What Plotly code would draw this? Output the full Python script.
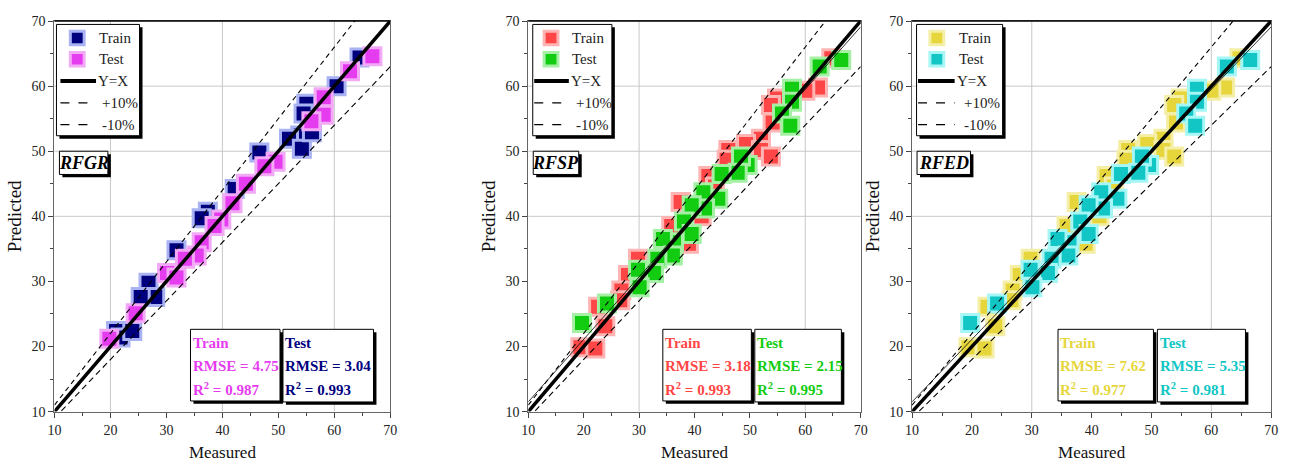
import plotly.graph_objects as go

# ---------------- data ----------------
# Panel 1: RFGR
rfgr_train_measured = [64.5, 60.4, 55.0, 54.5, 53.9, 51.9, 54.2, 56.0, 46.6, 42.2, 37.4, 36.3, 31.8, 26.8, 28.0, 25.4, 21.0, 21.8, 23.9]
rfgr_train_predicted = [64.4, 60.0, 57.3, 55.8, 52.4, 51.9, 50.4, 52.9, 49.8, 44.2, 40.7, 39.7, 34.8, 29.8, 27.6, 27.6, 22.4, 21.4, 22.4]
rfgr_test_measured = [66.8, 62.8, 58.1, 58.1, 55.9, 49.5, 47.5, 44.2, 41.8, 39.8, 38.6, 36.3, 35.4, 33.3, 30.1, 31.8, 24.5, 19.8]
rfgr_test_predicted = [64.6, 62.3, 58.3, 55.6, 54.6, 48.4, 47.7, 45.0, 42.0, 39.5, 38.5, 36.0, 34.0, 33.5, 31.3, 30.6, 25.1, 21.2]

# Panel 2: RFSP
rfsp_train_measured = [64.7, 62.3, 60.0, 54.9, 53.8, 54.1, 52.0, 49.3, 52.0, 53.8, 46.1, 45.8, 42.5, 43.7, 37.5, 41.3, 39.0, 35.8, 29.8, 28.0, 26.8, 26.6, 23.9, 19.4, 22.1, 22.6]
rfsp_train_predicted = [64.3, 59.8, 59.3, 58.1, 57.1, 54.4, 51.9, 51.1, 50.2, 49.2, 50.2, 48.7, 46.2, 44.6, 42.2, 40.0, 35.8, 38.5, 33.5, 31.0, 28.6, 27.1, 23.1, 19.9, 19.7, 26.1]
rfsp_test_measured = [66.5, 62.6, 57.6, 57.6, 55.8, 57.3, 49.6, 48.4, 47.8, 44.9, 44.3, 41.6, 41.9, 39.5, 38.1, 39.5, 36.3, 34.3, 36.1, 33.3, 32.7, 29.8, 30.1, 24.2, 19.7]
rfsp_test_predicted = [64.0, 63.0, 59.6, 57.6, 55.8, 53.9, 47.9, 49.2, 46.7, 46.5, 42.7, 43.7, 41.2, 41.7, 39.2, 37.3, 36.0, 36.5, 34.0, 33.5, 31.3, 31.8, 29.1, 26.6, 23.6]

# Panel 3: RFED
rfed_train_measured = [64.7, 62.3, 60.0, 54.9, 53.8, 54.1, 52.0, 49.3, 52.0, 53.8, 46.1, 45.8, 42.5, 43.7, 37.5, 41.3, 39.0, 35.8, 29.8, 28.0, 26.8, 26.6, 23.9, 19.4, 22.1, 22.6]
rfed_train_predicted = [64.3, 59.8, 59.3, 58.1, 57.1, 54.4, 51.9, 51.1, 50.2, 49.2, 50.2, 48.7, 46.2, 44.6, 42.2, 40.0, 35.8, 38.5, 33.5, 31.0, 28.6, 27.1, 23.1, 19.9, 19.7, 26.1]
rfed_test_measured = [66.5, 62.6, 57.6, 57.6, 55.8, 57.3, 49.6, 48.4, 47.8, 44.9, 44.3, 41.6, 41.9, 39.5, 38.1, 39.5, 36.3, 34.3, 36.1, 33.3, 32.7, 29.8, 30.1, 24.2, 19.7]
rfed_test_predicted = [64.0, 63.0, 59.6, 57.6, 55.8, 53.9, 47.9, 49.2, 46.7, 46.5, 42.7, 43.7, 41.2, 41.7, 39.2, 37.3, 36.0, 36.5, 34.0, 33.5, 31.3, 31.8, 29.1, 26.6, 23.6]

model_names = ["RFGR", "RFSP", "RFED"]
train_rmse = [4.75, 3.18, 7.62]
train_r2 = [0.987, 0.993, 0.977]
test_rmse = [3.04, 2.15, 5.35]
test_r2 = [0.993, 0.995, 0.981]
legend_labels = ["Train", "Test", "Y=X", "+10%", "-10%"]

ref_x = [10, 70]
fit_intercept = [None, 1.9, 1.9]
fit_slope = [None, 0.96, 0.96]

axis_range = [10, 70]
grid_x = [[20, 40, 60], [30, 60], [30, 60]]
grid_y = [40, 50, 60]

# ---------------- style ----------------
W, H = 1294, 468
FONT = "Liberation Serif, Times New Roman, serif"
train_core = ["#00007F", "#FF4646", "#E6D63C"]
train_halo = ["#A9B2F2", "#FFB4B4", "#F4EEA6"]
test_core = ["#E63CF0", "#12CC12", "#12C6C6"]
test_halo = ["#F2AAF6", "#A6F0A6", "#A6F6F6"]
train_text = ["#E63CF0", "#FF4646", "#E6D63C"]
test_text = ["#00007F", "#12CC12", "#12C6C6"]

panel_px = [(48, 387.5), (527, 863), (915, 1278)]
top_px, bot_px = 14.5, 418

def fx(p):
    return p / W

def fy(p):
    return 1 - p / H

data = [
    (rfgr_train_measured, rfgr_train_predicted, rfgr_test_measured, rfgr_test_predicted),
    (rfsp_train_measured, rfsp_train_predicted, rfsp_test_measured, rfsp_test_predicted),
    (rfed_train_measured, rfed_train_predicted, rfed_test_measured, rfed_test_predicted),
]

fig = go.Figure()
shapes = []
annotations = []

# legend geometry (pixels)
legend_box_px = [(50, 18, 134, 133), (531.5, 18, 611.5, 133), (919.5, 18, 1006.5, 133)]
legend_mark_x = [71, 550, 940]
legend_line_x = [(54, 90), (533, 568), (921, 958)]
legend_text_x = [(92.5, 92, 96.5), (571.5, 570, 575), (962.5, 960, 967)]
legend_row_y = [32, 54, 76.5, 99, 121.5]

label_box_px = [(53, 149, 102, 173), (532, 149, 578, 173), (920, 149, 974, 173)]
train_box_px = [(185.5, 333, 276, 407), (663, 333, 752.5, 407), (1062.5, 333, 1159, 407)]
test_box_px = [(279, 333, 370.5, 408), (756, 333, 843.5, 408), (1163, 333, 1252, 408)]

TEXT_PAD = 2  # annotation inner padding (borderpad + border)


def shadow_box(l, t, r, b, off=3):
    shapes.append(dict(type="rect", xref="paper", yref="paper", x0=fx(l + off), x1=fx(r + off), y0=fy(b + off),
                       y1=fy(t + off), fillcolor="black", line=dict(width=0), layer="above"))
    shapes.append(dict(type="rect", xref="paper", yref="paper", x0=fx(l), x1=fx(r), y0=fy(b), y1=fy(t),
                       fillcolor="white", line=dict(color="black", width=1), layer="above"))


for i in range(3):
    xa = "x" if i == 0 else f"x{i+1}"
    ya = "y" if i == 0 else f"y{i+1}"
    trm, trp, tem, tep = data[i]

    fig.add_trace(go.Scatter(x=trm, y=trp, mode="markers", name="Train", xaxis=xa, yaxis=ya, showlegend=False,
                             marker=dict(symbol="square", size=17, color=train_core[i],
                                         line=dict(color=train_halo[i], width=3))))
    fig.add_trace(go.Scatter(x=tem, y=tep, mode="markers", name="Test", xaxis=xa, yaxis=ya, showlegend=False,
                             marker=dict(symbol="square", size=17, color=test_core[i],
                                         line=dict(color=test_halo[i], width=3))))
    if fit_slope[i] is not None:
        fig.add_trace(go.Scatter(x=ref_x, y=[fit_intercept[i] + fit_slope[i] * v for v in ref_x], mode="lines",
                                 xaxis=xa, yaxis=ya, showlegend=False, hoverinfo="skip",
                                 line=dict(color="black", width=0.8)))
    fig.add_trace(go.Scatter(x=ref_x, y=ref_x, mode="lines", name="Y=X", xaxis=xa, yaxis=ya, showlegend=False,
                             line=dict(color="black", width=3.5)))
    fig.add_trace(go.Scatter(x=ref_x, y=[1.1 * v for v in ref_x], mode="lines", name="+10%", xaxis=xa, yaxis=ya,
                             showlegend=False, line=dict(color="black", width=1.1, dash="5px,4px")))
    fig.add_trace(go.Scatter(x=ref_x, y=[0.9 * v for v in ref_x], mode="lines", name="-10%", xaxis=xa, yaxis=ya,
                             showlegend=False, line=dict(color="black", width=1.1, dash="6px,4px")))

    for gx in grid_x[i]:
        shapes.append(dict(type="line", xref=xa, yref=f"{ya} domain", x0=gx, x1=gx, y0=0, y1=1,
                           line=dict(color="#C8C8C8", width=1), layer="below"))
    for gy in grid_y:
        shapes.append(dict(type="line", xref=f"{xa} domain", yref=ya, x0=0, x1=1, y0=gy, y1=gy,
                           line=dict(color="#C8C8C8", width=1), layer="below"))
    shapes.append(dict(type="line", xref=f"{xa} domain", yref=f"{ya} domain", x0=0, x1=1, y0=1, y1=1,
                       line=dict(color="black", width=1.5), layer="above"))

    # ---- legend ----
    shadow_box(*legend_box_px[i])
    mx = legend_mark_x[i]
    for k, (core, halo) in enumerate([(train_core[i], train_halo[i]), (test_core[i], test_halo[i])]):
        cy = legend_row_y[k]
        shapes.append(dict(type="rect", xref="paper", yref="paper", x0=fx(mx - 7), x1=fx(mx + 7),
                           y0=fy(cy + 7), y1=fy(cy - 7), fillcolor=core, line=dict(color=halo, width=3),
                           layer="above"))
    lx0, lx1 = legend_line_x[i]
    for k, (w, dash) in enumerate([(4, "solid"), (1.1, "dash"), (1.1, "dash")]):
        cy = legend_row_y[k + 2]
        shapes.append(dict(type="line", xref="paper", yref="paper", x0=fx(lx0), x1=fx(lx1), y0=fy(cy), y1=fy(cy),
                           line=dict(color="black", width=w, dash=dash), layer="above"))
    tx_mark, tx_yx, tx_pct = legend_text_x[i]
    for k, lab in enumerate(legend_labels):
        tx = tx_mark if k < 2 else (tx_yx if k == 2 else tx_pct)
        annotations.append(dict(xref="paper", yref="paper", x=fx(tx - TEXT_PAD), y=fy(legend_row_y[k]),
                                xanchor="left", yanchor="middle", showarrow=False, text=lab,
                                font=dict(family=FONT, size=15, color="#222")))

    # ---- model label ----
    l, t, r, b = label_box_px[i]
    shadow_box(l, t, r, b)
    annotations.append(dict(xref="paper", yref="paper", x=fx((l + r) / 2), y=fy((t + b) / 2), xanchor="center",
                            yanchor="middle", showarrow=False, text=f"<b><i>{model_names[i]}</i></b>",
                            font=dict(family=FONT, size=18, color="black")))

    # ---- metric boxes ----
    for box, title, rm, r2, col in [(train_box_px[i], "Train", train_rmse[i], train_r2[i], train_text[i]),
                                    (test_box_px[i], "Test", test_rmse[i], test_r2[i], test_text[i])]:
        l, t, r, b = box
        shadow_box(l, t, r, b)
        lines = [f"<b>{title}</b>", f"<b>RMSE = {rm:.2f}</b>", f"<b>R<sup>2</sup> = {r2:.3f}</b>"]
        for k, txt in enumerate(lines):
            annotations.append(dict(xref="paper", yref="paper", x=fx(l + 2.5 - TEXT_PAD), y=fy(t + 14 + 24 * k),
                                    xanchor="left", yanchor="middle", showarrow=False, text=txt,
                                    font=dict(family=FONT, size=15, color=col)))

layout = dict(
    width=W, height=H, margin=dict(l=0, r=0, t=0, b=0),
    paper_bgcolor="white", plot_bgcolor="white", showlegend=False,
    shapes=shapes, annotations=annotations,
    font=dict(family=FONT, color="#222"),
)

for i in range(3):
    l, r = panel_px[i]
    xname = "xaxis" if i == 0 else f"xaxis{i+1}"
    yname = "yaxis" if i == 0 else f"yaxis{i+1}"
    xa = "x" if i == 0 else f"x{i+1}"
    ya = "y" if i == 0 else f"y{i+1}"
    common = dict(range=axis_range, dtick=10, tick0=10, ticks="outside", ticklen=5, tickwidth=1, tickcolor="#444",
                  showline=True, linecolor="#666", linewidth=1.2, mirror=True, showgrid=False, zeroline=False,
                  tickfont=dict(family=FONT, size=14, color="#222"),
                  minor=dict(dtick=5, ticks="outside", ticklen=3, tickcolor="#444", showgrid=False))
    layout[xname] = dict(common, domain=[fx(l), fx(r)], anchor=ya,
                         title=dict(text="Measured", font=dict(family=FONT, size=17, color="#111"), standoff=9))
    layout[yname] = dict(common, domain=[fy(bot_px), fy(top_px)], anchor=xa,
                         title=dict(text="Predicted", font=dict(family=FONT, size=19, color="#111"), standoff=4))

fig.update_layout(**layout)
fig.write_html("out.html")
